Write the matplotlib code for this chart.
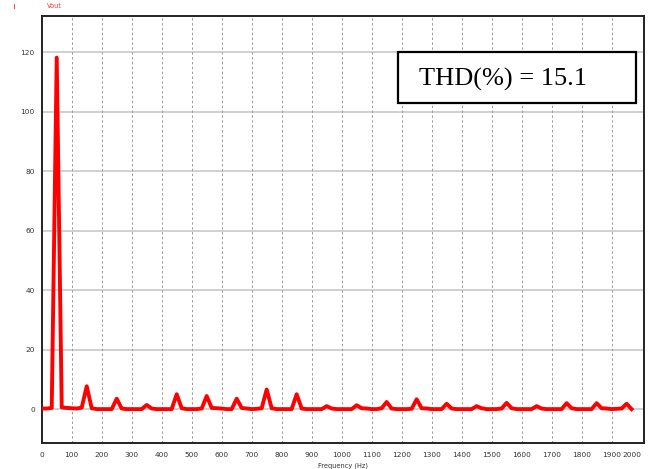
import numpy as np
import matplotlib
matplotlib.use("Agg")
import matplotlib.pyplot as plt
from matplotlib.lines import Line2D
from matplotlib.patches import Rectangle

# FFT of Vout, 16.67 Hz bins (0 .. 1966.7 Hz)
bin_step = 50.0 / 3.0
vout_mag = [
    0.2, 0.2, 0.4, 118.2, 0.6, 0.4, 0.3, 0.2, 0.5, 7.7,      # 0 - 150
    0.3, 0.0, 0.0, 0.0, 0.0, 3.5, 0.2, 0.0, 0.0, 0.0,        # 166 - 316
    0.0, 1.4, 0.2, 0.0, 0.0, 0.0, 0.0, 5.0, 0.3, 0.0,        # 333 - 483
    0.0, 0.0, 0.2, 4.4, 0.4, 0.3, 0.2, 0.0, 0.0, 3.5,        # 500 - 650
    0.4, 0.2, 0.0, 0.1, 0.3, 6.6, 0.3, 0.0, 0.0, 0.0,        # 666 - 816
    0.0, 5.0, 0.2, 0.0, 0.0, 0.0, 0.0, 1.0, 0.2, 0.0,        # 833 - 983
    0.0, 0.0, 0.0, 1.3, 0.3, 0.2, 0.0, 0.0, 0.3, 2.4,        # 1000 - 1150
    0.2, 0.0, 0.0, 0.0, 0.1, 3.3, 0.3, 0.2, 0.0, 0.0,        # 1166 - 1316
    0.0, 1.8, 0.2, 0.0, 0.0, 0.0, 0.0, 1.0, 0.3, 0.0,        # 1333 - 1483
    0.0, 0.0, 0.2, 2.1, 0.3, 0.0, 0.0, 0.0, 0.0, 1.0,        # 1500 - 1650
    0.2, 0.0, 0.0, 0.0, 0.0, 2.0, 0.3, 0.0, 0.0, 0.0,        # 1666 - 1816
    0.0, 2.0, 0.3, 0.2, 0.0, 0.1, 0.2, 1.8, 0.0,             # 1833 - 1966
]
freq = np.arange(len(vout_mag)) * bin_step

x_ticks = list(range(0, 2001, 100))
y_ticks = [0, 20, 40, 60, 80, 100, 120]
thd_text = "THD(%) = 15.1"

tick_font = ["Liberation Sans Narrow", "DejaVu Sans"]

fig = plt.figure(figsize=(6.48, 4.69), dpi=100)
ax = fig.add_axes([0.0644, 0.0554, 0.9294, 0.9105])

# grid: solid horizontal, dashed vertical
for y in y_ticks:
    ax.axhline(y, color="#c4c4c4", lw=1.1, zorder=1)
for x in x_ticks[1:-1]:
    ax.axvline(x, color="#9a9a9a", lw=0.7, ls=(0, (2.5, 2.5)), zorder=1)

ax.plot(freq, vout_mag, color="#ff0000", lw=2.8, zorder=3)

ax.set_xlim(0, 2008)
ax.set_ylim(-11.4, 132.2)
ax.set_xticks(x_ticks)
ax.set_yticks(y_ticks)
ax.tick_params(length=0, labelsize=5.3, colors="#333333")
ax.tick_params(axis="x", pad=6.5)
ax.tick_params(axis="y", pad=5)
for lbl in ax.get_xticklabels() + ax.get_yticklabels():
    lbl.set_family(tick_font)
# keep the last frequency label inside the frame
ax.get_xticklabels()[-1].set_horizontalalignment("right")

for side in ["left", "bottom", "top", "right"]:
    ax.spines[side].set_linewidth(1.4)
    ax.spines[side].set_color("#222222")

ax.set_xlabel("Frequency (Hz)", fontsize=4.8, color="#333333", labelpad=3.5,
              family=tick_font)

# legend-ish header
fig.text(0.0725, 0.9875, "Vout", color="#ff3030", fontsize=4.8, va="center",
         family=tick_font)
fig.add_artist(Line2D([0.0216, 0.0216], [0.982, 0.992], color="#ff5050",
                      lw=0.8, transform=fig.transFigure))

# THD annotation box
ax.add_patch(Rectangle((0.591, 0.7955), 0.396, 0.1209, transform=ax.transAxes,
                       facecolor="white", edgecolor="black", lw=1.6, zorder=5))
ax.text(0.627, 0.836, thd_text, transform=ax.transAxes, fontsize=19,
        family="Liberation Serif", va="baseline", ha="left", zorder=6)

fig.savefig("out.png", dpi=100)
